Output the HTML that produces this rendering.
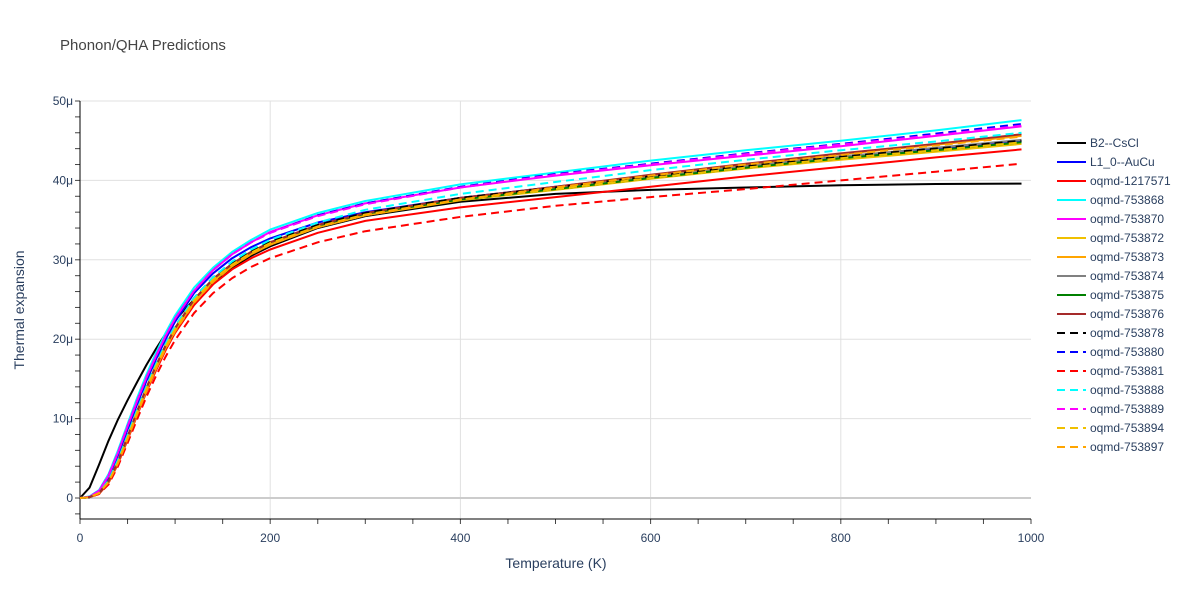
<!DOCTYPE html>
<html><head><meta charset="utf-8"><style>
body{margin:0;background:#fff;font-family:"Liberation Sans",sans-serif;}
</style></head><body>
<svg id="c" width="1200" height="600" xmlns="http://www.w3.org/2000/svg" style="font-family:'Liberation Sans',sans-serif">
<text x="60" y="50" font-size="15" fill="#444">Phonon/QHA Predictions</text>
<g id="grid"></g><g id="axes"></g><g id="series"></g><g id="legend"></g>
<text x="556" y="568" font-size="14" fill="#2a3f5f" text-anchor="middle">Temperature (K)</text>
<text x="24" y="310" font-size="14" fill="#2a3f5f" text-anchor="middle" transform="rotate(-90 24 310)">Thermal expansion</text>
</svg>
<script>
const temps=[0,10,20,30,40,50,60,70,80,90,100,120,140,160,180,200,250,300,400,500,600,700,800,900,990];
const xTicks=[0,200,400,600,800,1000];
const yTicks=[0,10,20,30,40,50];
const names=["B2--CsCl","L1_0--AuCu","oqmd-1217571","oqmd-753868","oqmd-753870","oqmd-753872","oqmd-753873","oqmd-753874","oqmd-753875","oqmd-753876","oqmd-753878","oqmd-753880","oqmd-753881","oqmd-753888","oqmd-753889","oqmd-753894","oqmd-753897"];
const colors=["#000000","#0000ff","#ff0000","#00ffff","#ff00ff","#f0c000","#ffa500","#808080","#008000","#a52a2a","#000000","#0000ff","#ff0000","#00ffff","#ff00ff","#f0c000","#ffa500"];
const dashed=[0,0,0,0,0,0,0,0,0,0,1,1,1,1,1,1,1];
const vB2=[0,1.3,4.2,7.2,9.9,12.3,14.6,16.8,18.8,20.7,22.4,25.0,27.2,29.0,30.5,31.7,34.0,35.5,37.3,38.3,38.8,39.1,39.4,39.55,39.6];
const vL10=[0,0.15,0.8,2.6,5.4,8.6,11.8,14.8,17.5,20.0,22.2,25.8,28.3,30.2,31.6,32.7,34.7,36.0,37.8,39.2,40.6,41.9,43.0,44.0,45.0];
const v1217571=[0,0.1,0.5,1.9,4.3,7.3,10.4,13.4,16.1,18.6,20.8,24.3,26.9,28.8,30.2,31.3,33.4,34.9,36.6,37.9,39.2,40.5,41.7,42.9,43.9];
const v753868=[0,0.2,1.0,3.0,6.0,9.3,12.6,15.6,18.3,20.8,23.0,26.5,29.0,31.0,32.5,33.8,35.9,37.4,39.5,41.0,42.5,43.8,45.0,46.3,47.6];
const v753870=[0,0.15,0.9,2.8,5.7,9.0,12.2,15.2,17.9,20.4,22.6,26.1,28.7,30.7,32.2,33.5,35.6,37.1,39.1,40.6,41.9,43.1,44.3,45.6,46.8];
const v753872=[0,0.1,0.6,2.0,4.5,7.5,10.7,13.7,16.5,19.0,21.2,24.8,27.4,29.3,30.8,32.0,34.1,35.6,37.5,38.8,40.2,41.5,42.6,43.6,44.6];
const v753873=[0,0.1,0.6,2.0,4.5,7.5,10.6,13.6,16.4,18.9,21.1,24.7,27.3,29.2,30.7,31.9,34.1,35.6,37.6,39.1,40.6,42.0,43.3,44.5,45.6];
const v753874=[0,0.1,0.6,2.1,4.6,7.7,10.9,13.9,16.7,19.2,21.4,25.0,27.6,29.5,31.0,32.2,34.3,35.8,37.7,39.0,40.4,41.8,43.0,44.1,45.1];
const v753875=[0,0.1,0.6,2.1,4.6,7.7,10.9,13.9,16.7,19.2,21.4,25.0,27.6,29.5,31.0,32.2,34.3,35.8,37.6,38.9,40.3,41.6,42.8,43.8,44.8];
const v753876=[0,0.1,0.6,2.1,4.6,7.7,10.9,13.9,16.7,19.2,21.4,25.0,27.6,29.5,31.0,32.2,34.4,35.9,37.8,39.2,40.7,42.1,43.4,44.6,45.8];
const v753878=[0,0.1,0.7,2.2,4.8,7.9,11.1,14.1,16.9,19.4,21.6,25.2,27.8,29.7,31.1,32.3,34.4,35.9,37.8,39.1,40.5,41.8,43.0,44.0,45.0];
const v753880=[0,0.15,0.9,2.8,5.7,9.0,12.2,15.2,17.9,20.4,22.6,26.1,28.7,30.7,32.2,33.4,35.6,37.1,39.2,40.8,42.1,43.4,44.6,45.9,47.1];
const v753881=[0,0.1,0.5,1.7,4.0,6.9,9.9,12.8,15.4,17.8,19.9,23.3,25.8,27.7,29.1,30.2,32.2,33.6,35.4,36.8,37.9,38.9,40.0,41.1,42.1];
const v753888=[0,0.1,0.7,2.2,4.8,7.9,11.1,14.1,16.9,19.4,21.6,25.2,27.8,29.8,31.3,32.5,34.7,36.3,38.3,39.8,41.3,42.6,43.8,44.9,46.0];
const v753889=[0,0.15,0.9,2.8,5.7,9.0,12.2,15.2,17.9,20.4,22.6,26.1,28.7,30.7,32.2,33.4,35.5,37.0,39.1,40.7,42.0,43.3,44.5,45.7,46.9];
const v753894=[0,0.1,0.6,2.0,4.5,7.6,10.8,13.8,16.6,19.1,21.3,24.9,27.5,29.4,30.9,32.1,34.2,35.7,37.6,38.9,40.3,41.6,42.8,43.8,44.8];
const v753897=[0,0.1,0.6,2.0,4.4,7.4,10.5,13.5,16.3,18.8,21.0,24.6,27.2,29.2,30.7,31.9,34.1,35.6,37.6,39.1,40.6,42.0,43.2,44.4,45.5];
const seriesVals=[vB2,vL10,v1217571,v753868,v753870,v753872,v753873,v753874,v753875,v753876,v753878,v753880,v753881,v753888,v753889,v753894,v753897];

const NS="http://www.w3.org/2000/svg";
const X0=80,X1=1031,Y0=498,Y50=101,YB=519;
const xs=t=>X0+(X1-X0)*t/1000;
const ys=v=>Y0-(Y0-Y50)*v/50;
function mk(tag,attrs,parent){const e=document.createElementNS(NS,tag);for(const k in attrs)e.setAttribute(k,attrs[k]);parent.appendChild(e);return e;}
const grid=document.getElementById('grid'),axes=document.getElementById('axes'),ser=document.getElementById('series'),leg=document.getElementById('legend');

xTicks.forEach(t=>{
  if(t>0&&t<1000){const l=mk('line',{x1:xs(t),x2:xs(t),y1:Y50,y2:YB,stroke:'#e0e0e0','stroke-width':1},grid);
  
  }
  const tx=mk('text',{x:xs(t),y:YB+23,'font-size':12,fill:'#2a3f5f','text-anchor':'middle'},axes);
  tx.textContent=t;
  
  
});
for(let t=0;t<=1000;t+=50){const l=mk('line',{x1:xs(t),x2:xs(t),y1:YB,y2:YB+5,stroke:'#444','stroke-width':1},axes);
  
  }
yTicks.forEach(v=>{
  const l=mk('line',{x1:X0,x2:X1,y1:ys(v),y2:ys(v),stroke:v===0?'#cccccc':'#e0e0e0','stroke-width':v===0?2:1},grid);
  
  
  const tx=mk('text',{x:X0-7,y:ys(v)+4,'font-size':12,fill:'#2a3f5f','text-anchor':'end'},axes);
  tx.textContent=v===0?'0':v+'μ';
  
  
});
for(let v=-2;v<=50;v+=2){const l=mk('line',{x1:X0-5,x2:X0,y1:ys(v),y2:ys(v),stroke:'#444','stroke-width':1},axes);
  
  }
const xa=mk('line',{x1:X0,x2:X1,y1:YB,y2:YB,stroke:'#000','stroke-width':1},axes);


const ya=mk('line',{x1:X0,x2:X0,y1:Y50,y2:YB,stroke:'#000','stroke-width':1},axes);



seriesVals.forEach((vals,i)=>{
  const pts=vals.map((v,j)=>xs(temps[j]).toFixed(1)+','+ys(v).toFixed(1)).join(' ');
  const p=mk('polyline',{points:pts,fill:'none',stroke:colors[i],'stroke-width':2,'stroke-linejoin':'round'},ser);
  if(dashed[i])p.setAttribute('stroke-dasharray','8,5');
  
  
  const y=143+19*i;
  const g=mk('g',{},leg);
  
  
  const l=mk('line',{x1:1057,x2:1086,y1:y,y2:y,stroke:colors[i],'stroke-width':2},g);
  if(dashed[i])l.setAttribute('stroke-dasharray','8,5');
  const tx=mk('text',{x:1090,y:y+4,'font-size':12,fill:'#2a3f5f'},g);
  tx.textContent=names[i];
});
</script>
</body></html>
